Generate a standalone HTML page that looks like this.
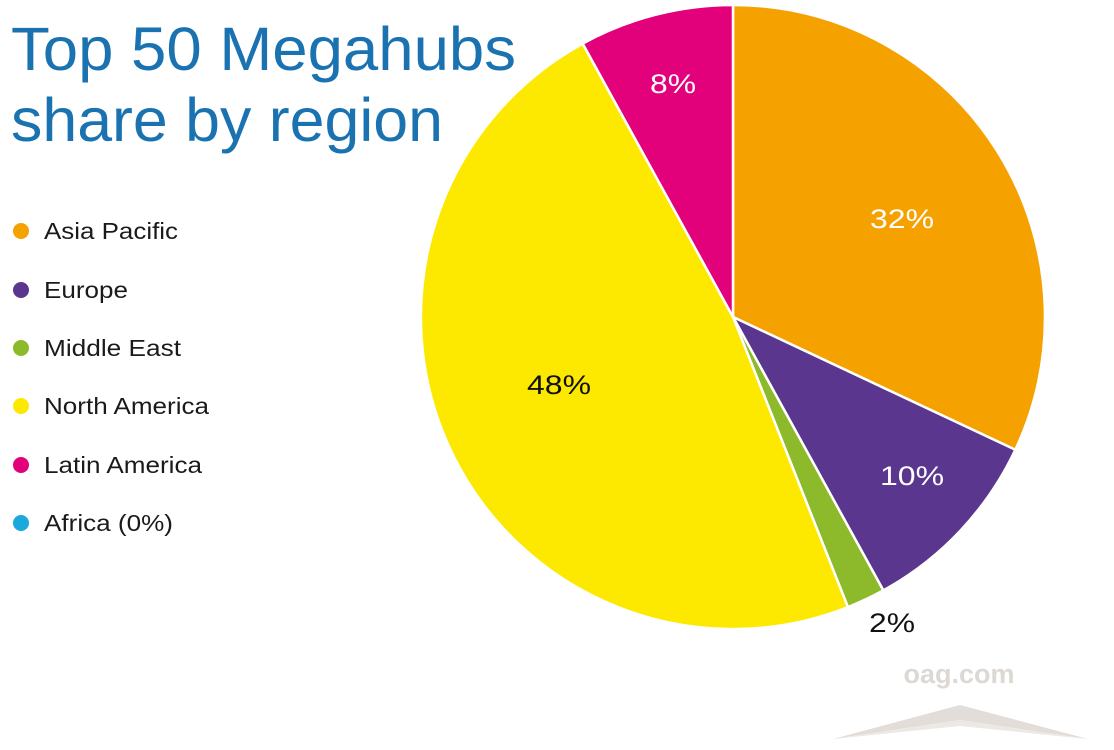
<!DOCTYPE html>
<html><head><meta charset="utf-8"><style>
html,body{margin:0;padding:0;background:#fff;}
svg{display:block;}
text{font-family:"Liberation Sans",sans-serif;}
</style></head><body>
<svg width="1114" height="750" viewBox="0 0 1114 750">
<rect width="1114" height="750" fill="#fff"/>
<g stroke="#fff" stroke-width="2.5" stroke-linejoin="round">
<path d="M733,317 L733,5 A312,312 0 0 1 1015.3,449.8 Z" fill="#F5A200"/>
<path d="M733,317 L1015.3,449.8 A312,312 0 0 1 883.3,590.4 Z" fill="#5B368E"/>
<path d="M733,317 L883.3,590.4 A312,312 0 0 1 847.9,607.1 Z" fill="#8DBA2B"/>
<path d="M733,317 L847.9,607.1 A312,312 0 0 1 582.7,43.6 Z" fill="#FDE900"/>
<path d="M733,317 L582.7,43.6 A312,312 0 0 1 733,5 Z" fill="#E3007B"/>
</g>
<g font-size="27" text-anchor="middle" lengthAdjust="spacingAndGlyphs">
<text x="902" y="228" fill="#fff" textLength="64" lengthAdjust="spacingAndGlyphs">32%</text>
<text x="912" y="485" fill="#fff" textLength="64" lengthAdjust="spacingAndGlyphs">10%</text>
<text x="892" y="632" fill="#111" textLength="46" lengthAdjust="spacingAndGlyphs">2%</text>
<text x="559" y="394" fill="#111" textLength="64" lengthAdjust="spacingAndGlyphs">48%</text>
<text x="673" y="93" fill="#fff" textLength="46" lengthAdjust="spacingAndGlyphs">8%</text>
</g>
<g font-size="61" fill="#1A72B0">
<text x="11" y="70" textLength="505" lengthAdjust="spacingAndGlyphs">Top 50 Megahubs</text>
<text x="11" y="141" textLength="432" lengthAdjust="spacingAndGlyphs">share by region</text>
</g>
<g font-size="23" fill="#1a1a1a">
<circle cx="21" cy="231" r="8" fill="#F5A200"/><text x="44" y="239" textLength="134" lengthAdjust="spacingAndGlyphs">Asia Pacific</text>
<circle cx="21" cy="290" r="8" fill="#5B368E"/><text x="44" y="298" textLength="84" lengthAdjust="spacingAndGlyphs">Europe</text>
<circle cx="21" cy="348" r="8" fill="#8DBA2B"/><text x="44" y="356" textLength="137" lengthAdjust="spacingAndGlyphs">Middle East</text>
<circle cx="21" cy="406" r="8" fill="#FDE900"/><text x="44" y="414" textLength="165" lengthAdjust="spacingAndGlyphs">North America</text>
<circle cx="21" cy="465" r="8" fill="#E3007B"/><text x="44" y="473" textLength="158" lengthAdjust="spacingAndGlyphs">Latin America</text>
<circle cx="21" cy="523" r="8" fill="#1BA9DD"/><text x="44" y="531" textLength="129" lengthAdjust="spacingAndGlyphs">Africa (0%)</text>
</g>
<text x="959" y="683" font-size="27" font-weight="bold" fill="#DDD8D3" text-anchor="middle">oag.com</text>
<path d="M833,739 L960,705 L1088,739 L960,720 Z" fill="#E2DDD8"/>
<path d="M833,739 L960,720 L1088,739 L960,726 Z" fill="#ECE8E4"/>
</svg>
</body></html>
